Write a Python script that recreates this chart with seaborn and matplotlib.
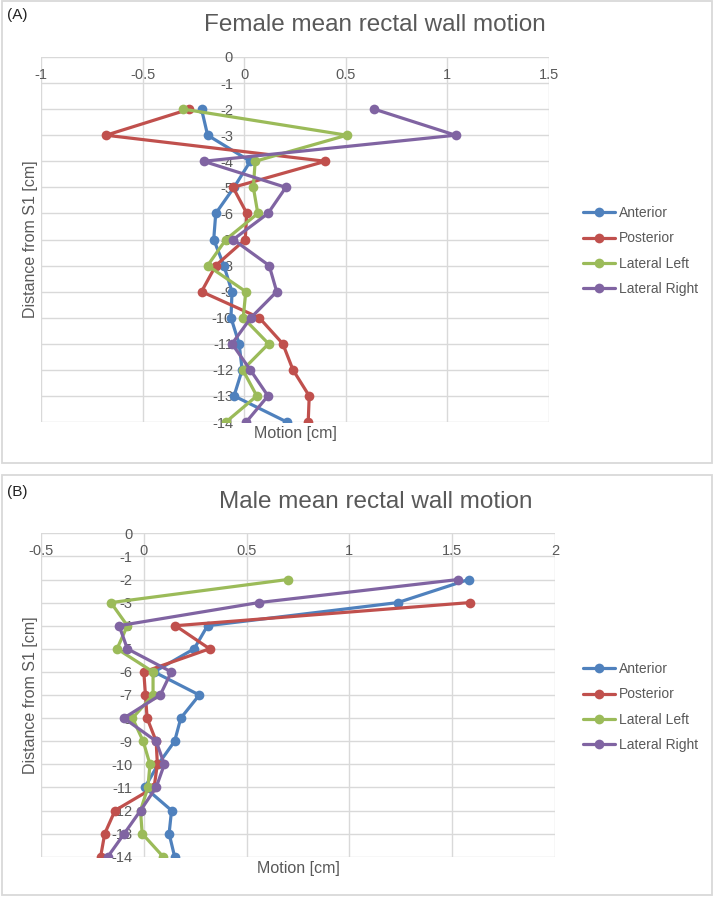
import numpy as np
import pandas as pd
import matplotlib
matplotlib.use("Agg")
import matplotlib.pyplot as plt
from matplotlib.patches import Rectangle
import seaborn as sns

# ---------------- data ----------------
distance = [-2, -3, -4, -5, -6, -7, -8, -9, -10, -11, -12, -13, -14]
regions = ["Anterior", "Posterior", "Lateral Left", "Lateral Right"]

female_anterior = [-0.21, -0.18, 0.03, -0.05, -0.14, -0.15, -0.10, -0.06, -0.065, -0.025, -0.01, -0.05, 0.21]
female_posterior = [-0.27, -0.68, 0.40, -0.055, 0.013, 0.005, -0.14, -0.21, 0.074, 0.19, 0.24, 0.32, 0.315]
female_lat_left = [-0.30, 0.505, 0.054, 0.045, 0.067, -0.09, -0.18, 0.008, -0.005, 0.12, -0.007, 0.062, -0.09]
female_lat_right = [0.64, 1.04, -0.20, 0.205, 0.117, -0.054, 0.123, 0.16, 0.033, -0.06, 0.03, 0.117, 0.01]

male_anterior = [1.58, 1.235, 0.31, 0.245, 0.05, 0.27, 0.18, 0.15, 0.07, 0.005, 0.135, 0.123, 0.15]
male_posterior = [np.nan, 1.585, 0.154, 0.32, 0.0, 0.008, 0.016, 0.06, 0.066, 0.05, -0.14, -0.19, -0.21]
male_lat_left = [0.70, -0.16, -0.08, -0.13, 0.045, 0.045, -0.055, -0.003, 0.03, 0.02, -0.016, -0.008, 0.094]
male_lat_right = [1.53, 0.558, -0.12, -0.08, 0.134, 0.08, -0.097, 0.06, 0.10, 0.06, -0.016, -0.095, -0.175]

female_xticks = [-1, -0.5, 0, 0.5, 1, 1.5]
male_xticks = [-0.5, 0, 0.5, 1, 1.5, 2]
yticks = [0, -1, -2, -3, -4, -5, -6, -7, -8, -9, -10, -11, -12, -13, -14]

female_title = "Female mean rectal wall motion"
male_title = "Male mean rectal wall motion"
x_label = "Motion [cm]"
y_label = "Distance from S1 [cm]"

colors = ["#4F81BD", "#C0504D", "#9BBB59", "#8064A2"]


def long_df(series):
    rows = []
    for name, vals in zip(regions, series):
        for d, v in zip(distance, vals):
            rows.append({"Region": name, "Distance": d, "Motion": v})
    return pd.DataFrame(rows)


female_df = long_df([female_anterior, female_posterior, female_lat_left, female_lat_right])
male_df = long_df([male_anterior, male_posterior, male_lat_left, male_lat_right])

# ---------------- style ----------------
sns.set_theme(style="white")
plt.rcParams["font.family"] = ["Liberation Sans", "DejaVu Sans"]
plt.rcParams["axes.unicode_minus"] = False

TXT = "#595959"
GRID = "#d9d9d9"

W, H = 715, 898
fig = plt.figure(figsize=(W / 100, H / 100), dpi=100)


def fig_rect(left, top, right, bottom):
    return [left / W, 1 - bottom / H, (right - left) / W, (bottom - top) / H]


def draw(ax, df, xticks, title, title_xy, legend_top):
    sns.lineplot(data=df, x="Motion", y="Distance", hue="Region", hue_order=regions,
                 palette=colors, marker="o", markersize=7, markeredgewidth=0,
                 linewidth=2.3, sort=False, estimator=None, ax=ax)
    ax.set_xlim(xticks[0], xticks[-1])
    ax.set_ylim(-14, 0)
    ax.set_xticks(xticks)
    ax.set_xticklabels(["%g" % t for t in xticks])
    ax.set_yticks(yticks)
    ax.set_yticklabels(["%g" % t for t in yticks])
    ax.grid(True, color=GRID, linewidth=1.0)
    ax.set_axisbelow(True)
    for s in ax.spines.values():
        s.set_color("none")
    ax.spines["left"].set_position(("data", 0))
    ax.spines["bottom"].set_position(("data", 0))
    ax.tick_params(axis="both", length=0, labelsize=10.5, labelcolor=TXT)
    ax.tick_params(axis="x", pad=8)
    ax.tick_params(axis="y", pad=8)
    ax.set_xlabel(x_label, fontsize=11.5, color=TXT)
    ax.set_ylabel(y_label, fontsize=11.5, color=TXT)
    ax.xaxis.set_label_coords(0.5, -0.012)
    ax.yaxis.set_label_coords(-0.006, 0.5)
    fig.text(title_xy[0] / W, 1 - title_xy[1] / H, title, fontsize=17.5, color=TXT,
             ha="center", va="center")
    handles, labels = ax.get_legend_handles_labels()
    ax.legend(handles, labels, loc="upper left",
              bbox_to_anchor=(583 / W, 1 - legend_top / H), bbox_transform=fig.transFigure,
              frameon=False, fontsize=10, labelcolor=TXT, handlelength=2.3,
              handletextpad=0.3, labelspacing=0.82, borderaxespad=0, borderpad=0)


ax1 = fig.add_axes(fig_rect(41, 57, 549, 422))
draw(ax1, female_df, female_xticks, female_title, (375, 25), 206)

ax2 = fig.add_axes(fig_rect(41, 533.3, 555, 856.7))
draw(ax2, male_df, male_xticks, male_title, (376, 502), 662)

# panel borders and labels
for (l, t, r, b) in [(2, 1, 712, 463), (2, 475, 712, 895)]:
    fig.add_artist(Rectangle((l / W, 1 - b / H), (r - l) / W, (b - t) / H,
                             transform=fig.transFigure, fill=False,
                             edgecolor=GRID, linewidth=1.3))
fig.text(7 / W, 1 - 15 / H, "(A)", fontsize=11, color="#222222", ha="left", va="center")
fig.text(7 / W, 1 - 492 / H, "(B)", fontsize=11, color="#222222", ha="left", va="center")

fig.savefig("out.png", dpi=100)
